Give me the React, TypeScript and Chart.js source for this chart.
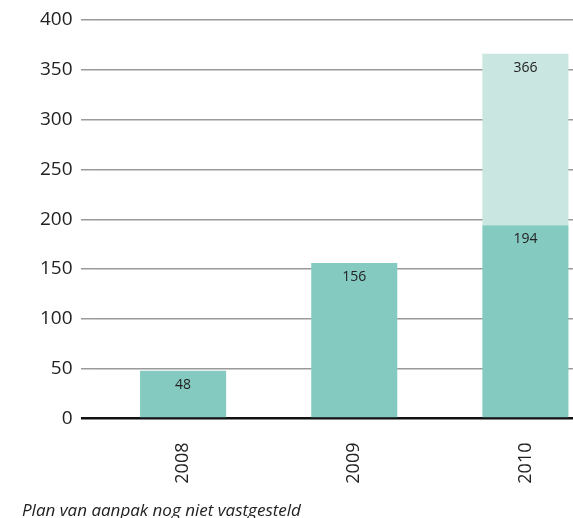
import React, { useEffect, useRef } from "react";
import { Chart, registerables } from "chart.js";

Chart.register(...registerables);

const categories = ["2008", "2009", "2010"];
const vastgesteld = [48, 156, 194];
const nietVastgesteld = [0, 0, 172];
const yTicks = [0, 50, 100, 150, 200, 250, 300, 350, 400];
const footnote = "Plan van aanpak nog niet vastgesteld";

const FONT = "'Open Sans', 'Noto Sans', sans-serif";

const valueLabels = {
  id: "valueLabels",
  afterDatasetsDraw(chart: any) {
    const ctx = chart.ctx;
    ctx.save();
    ctx.font = `14px ${FONT}`;
    ctx.fillStyle = "#222";
    ctx.textAlign = "center";
    ctx.textBaseline = "middle";
    chart.data.datasets.forEach((ds: any, di: number) => {
      const meta = chart.getDatasetMeta(di);
      meta.data.forEach((bar: any, i: number) => {
        const v = ds.data[i];
        if (!v) return;
        let total = 0;
        for (let k = 0; k <= di; k++) total += chart.data.datasets[k].data[i] || 0;
        ctx.fillText(String(total), bar.x, bar.y + 14);
      });
    });
    ctx.restore();
  },
};

const footnotePlugin = {
  id: "footnote",
  afterDraw(chart: any) {
    const ctx = chart.ctx;
    ctx.save();
    ctx.font = `italic 17px ${FONT}`;
    ctx.fillStyle = "#222";
    ctx.textAlign = "left";
    ctx.textBaseline = "alphabetic";
    ctx.fillText(footnote, 22, 516);
    ctx.restore();
  },
};

export default function App() {
  const ref = useRef<HTMLCanvasElement>(null);
  useEffect(() => {
    if (!ref.current) return;
    const chart = new Chart(ref.current, {
      type: "bar",
      data: {
        labels: categories,
        datasets: [
          {
            label: "Vastgesteld",
            data: vastgesteld,
            backgroundColor: "#85cac0",
            barPercentage: 86 / 171,
            categoryPercentage: 1,
          },
          {
            label: footnote,
            data: nietVastgesteld,
            backgroundColor: "#c9e6e0",
            barPercentage: 86 / 171,
            categoryPercentage: 1,
          },
        ],
      },
      options: {
        responsive: false,
        animation: false,
        layout: { padding: { top: 20, left: 0, right: 0, bottom: 0 } },
        plugins: {
          legend: { display: false },
          tooltip: { enabled: false },
          title: { display: false },
        },
        scales: {
          x: {
            stacked: true,
            grid: { display: false },
            border: { display: false },
            ticks: {
              minRotation: 90,
              maxRotation: 90,
              padding: 16,
              color: "#222",
              font: { family: FONT, size: 18 },
            },
            afterFit(scale: any) {
              scale.height = 99.5;
            },
          },
          y: {
            stacked: true,
            min: 0,
            max: 400,
            afterBuildTicks(scale: any) {
              scale.ticks = yTicks.map((v) => ({ value: v }));
            },
            grid: {
              color: (c: any) => (c.tick && c.tick.value === 0 ? "#111" : "#9a9a9a"),
              lineWidth: (c: any) => (c.tick && c.tick.value === 0 ? 2.5 : 1.5),
              drawTicks: true,
              tickLength: 16.5,
            },
            border: { display: false },
            ticks: {
              padding: 8.5,
              color: "#222",
              font: { family: FONT, size: 19 },
            },
            afterFit(scale: any) {
              scale.width = 97.5;
            },
          },
        },
      },
      plugins: [valueLabels, footnotePlugin],
    });
    return () => chart.destroy();
  }, []);
  return (
    <div
      style={{
        position: "absolute",
        left: 0,
        top: 0,
        width: 573,
        height: 518,
        overflow: "hidden",
        background: "#fff",
      }}
    >
      <canvas ref={ref} width={611} height={518} />
    </div>
  );
}
